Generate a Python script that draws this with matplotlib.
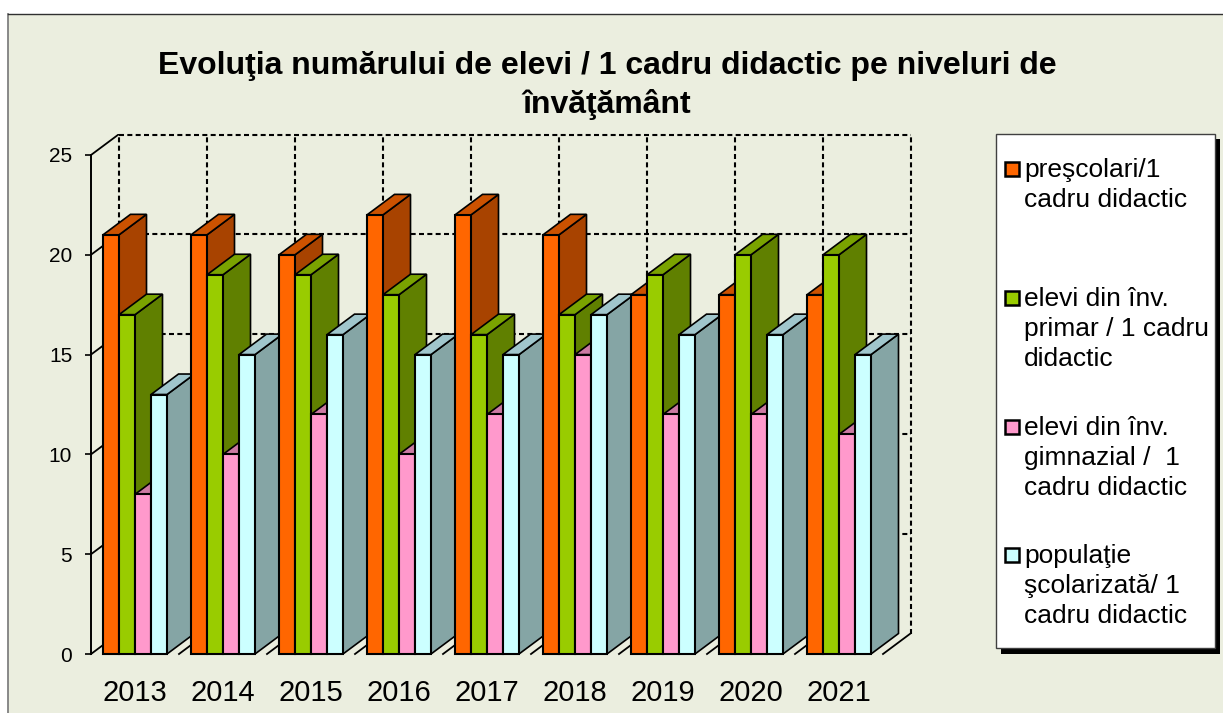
import matplotlib
matplotlib.use('Agg')
import matplotlib.pyplot as plt
from matplotlib.patches import Polygon, Rectangle

plt.rcParams['font.family'] = ['Liberation Sans', 'DejaVu Sans']

years = ['2013', '2014', '2015', '2016', '2017', '2018', '2019', '2020', '2021']
preschool = [21, 21, 20, 22, 22, 21, 18, 18, 18]
primary = [17, 19, 19, 18, 16, 17, 19, 20, 20]
middle = [8, 10, 12, 10, 12, 15, 12, 12, 11]
all_pupils = [13, 15, 16, 15, 15, 17, 16, 16, 15]
y_ticks = [0, 5, 10, 15, 20, 25]

title = 'Evoluţia numărului de elevi / 1 cadru didactic pe niveluri de\nînvăţământ'
legend_labels = ['preşcolari/1\ncadru didactic',
                 'elevi din înv.\nprimar / 1 cadru\ndidactic',
                 'elevi din înv.\ngimnazial /  1\ncadru didactic',
                 'populaţie\nşcolarizată/ 1\ncadru didactic']

# front, top and side colour of each series
colors = [('#FF6600', '#CC5200', '#A84300'),
          ('#99CC00', '#7AA300', '#608000'),
          ('#FF99CC', '#CC7AA3', '#A86487'),
          ('#CCFFFF', '#A0C6CC', '#85A5A5')]

W, H = 1223, 713
BG = '#EBEEDF'
DASH = (0, (2.4, 1.6))

fig = plt.figure(figsize=(W / 100, H / 100), dpi=100, facecolor='white')


def fx(px):
    return px / W


def fy(py):
    return 1 - py / H


# chart background with its border on the left and top
fig.add_artist(Rectangle((fx(8), 0), 1 - fx(8), fy(14), transform=fig.transFigure,
                         facecolor=BG, edgecolor='none', zorder=-2))
fig.add_artist(plt.Line2D([fx(8), fx(8)], [0, fy(14)], color='#808080', lw=1.3, zorder=-1))
fig.add_artist(plt.Line2D([fx(8), 1], [fy(14), fy(14)], color='#303030', lw=1, zorder=-1))

# axes run from the y axis to the back right corner of the walls
ax = fig.add_axes([fx(91), fy(654), fx(819), fy(134) - fy(654)])
ax.patch.set_visible(False)
px_x = 88.0
px_y = 19.96
ax.set_xlim(0, 819 / px_x)
ax.set_ylim(0, 520 / px_y)

depth_x = 27.5 / px_x
depth_y = 20.5 / px_y
n_years = len(years)

# back wall grid
for v in y_ticks[1:]:
    ax.plot([depth_x, n_years + depth_x], [v + depth_y, v + depth_y], color='black',
            lw=1.5, ls=DASH, zorder=1, clip_on=False)
    ax.plot([0, depth_x], [v, v + depth_y], color='black', lw=1.3, zorder=1)
for i in range(n_years + 1):
    ax.plot([i + depth_x, i + depth_x], [depth_y, 25 + depth_y], color='black',
            lw=1.5, ls=DASH, zorder=1, clip_on=False)
    ax.plot([i, i + depth_x], [0, depth_y], color='black', lw=1.3, zorder=1, clip_on=False)

# bars, left to right so each one covers the side of the previous one
bar_w = 16 / px_x
start = 12 / px_x
z = 2
for i in range(n_years):
    for s, values in enumerate([preschool, primary, middle, all_pupils]):
        x0 = i + start + s * bar_w
        x1 = x0 + bar_w
        v = values[i]
        front, top, side = colors[s]
        ax.add_patch(Polygon([(x1, 0), (x1 + depth_x, depth_y), (x1 + depth_x, v + depth_y), (x1, v)],
                             facecolor=side, edgecolor='black', lw=1.2, zorder=z))
        ax.add_patch(Polygon([(x0, v), (x1, v), (x1 + depth_x, v + depth_y), (x0 + depth_x, v + depth_y)],
                             facecolor=top, edgecolor='black', lw=1.2, zorder=z))
        ax.add_patch(Rectangle((x0, 0), bar_w, v, facecolor=front, edgecolor='black', lw=1.5, zorder=z,
                               clip_on=False))
        z += 1

for name in ['top', 'right', 'bottom']:
    ax.spines[name].set_visible(False)
ax.spines['left'].set_bounds(0, 25)
ax.spines['left'].set_linewidth(1.4)
ax.spines['left'].set_zorder(1)
ax.set_yticks(y_ticks)
ax.set_xticks([i + 0.5 for i in range(n_years)])
ax.set_xticklabels(years)
ax.tick_params(axis='y', length=4.5, width=1.2, pad=9, labelsize=15)
ax.tick_params(axis='x', length=0, pad=18, labelsize=21)

fig.text(fx(607), fy(66), title.split('\n')[0], ha='center', va='center',
         fontsize=23, fontweight='bold')
fig.text(fx(607), fy(104), title.split('\n')[1], ha='center', va='center',
         fontsize=23, fontweight='bold')

# legend box with hard shadow
fig.add_artist(Rectangle((fx(1001), fy(654)), fx(219), fy(139) - fy(654), transform=fig.transFigure,
                         facecolor='black', edgecolor='none', zorder=5))
fig.add_artist(Rectangle((fx(996), fy(648)), fx(219), fy(134) - fy(648), transform=fig.transFigure,
                         facecolor='white', edgecolor='#404040', lw=1, zorder=6))
legend_y = [169, 298, 427, 555]
for label, c, y in zip(legend_labels, colors, legend_y):
    fig.add_artist(Rectangle((fx(1004.5), fy(y + 7)), fx(14), fy(y - 7) - fy(y + 7), transform=fig.transFigure,
                             facecolor=c[0], edgecolor='black', lw=1.8, zorder=7))
    fig.add_artist(plt.Text(fx(1024), fy(y - 11), label, ha='left', va='top', fontsize=19,
                            linespacing=1.31, transform=fig.transFigure, zorder=7))

fig.savefig('out.png', dpi=100, facecolor=fig.get_facecolor())
